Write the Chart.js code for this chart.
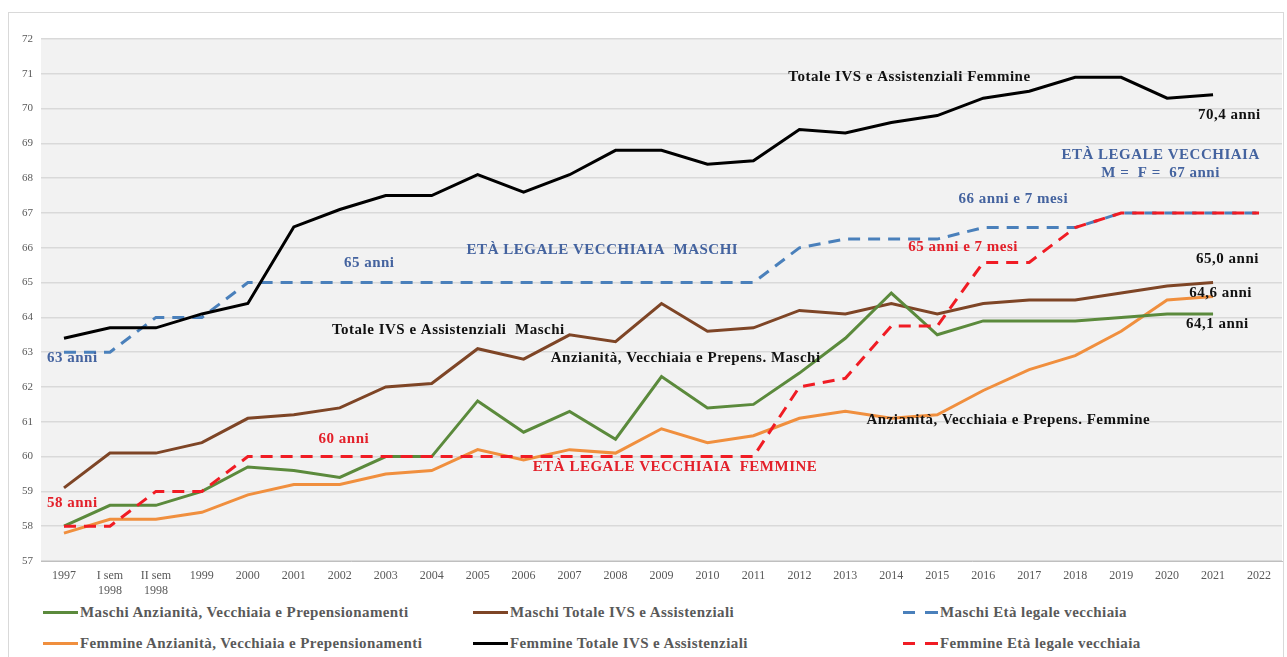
<!DOCTYPE html>
<html lang="it">
<head>
<meta charset="utf-8">
<title>Età media alla decorrenza</title>
<script src="https://cdn.jsdelivr.net/npm/chart.js@4.4.1/dist/chart.umd.min.js"></script>
<style>
  html, body { margin:0; padding:0; background:#fff; width:1287px; height:657px; overflow:hidden; }
  #frame { position:absolute; left:8px; top:12px; width:1276px; height:700px; border:1px solid #d9d9d9; box-sizing:border-box; }
  #wrap { position:absolute; left:0; top:0; width:1287px; height:600px; }
  #legend { position:absolute; left:0; top:598px; width:1287px; }
  .leg { position:absolute; display:flex; align-items:center; font:bold 15px "Liberation Serif", serif; letter-spacing:0.4px; color:#595959; white-space:nowrap; }
  .leg i { display:inline-block; width:35px; height:0; margin-right:2px; }
</style>
</head>
<body>
<div id="frame"></div>
<div id="wrap"><canvas id="chart" width="1287" height="600"></canvas></div>
<div id="legend"></div>
<script>
/* Età media alla decorrenza – maschi / femmine */
const categories = ['1997', ['I sem', '1998'], ['II sem', '1998'], '1999', '2000', '2001', '2002', '2003',
  '2004', '2005', '2006', '2007', '2008', '2009', '2010', '2011', '2012', '2013', '2014', '2015',
  '2016', '2017', '2018', '2019', '2020', '2021', '2022'];

const maschiAnzianita   = [58.0, 58.6, 58.6, 59.0, 59.7, 59.6, 59.4, 60.0, 60.0, 61.6, 60.7, 61.3, 60.5, 62.3, 61.4, 61.5, 62.4, 63.4, 64.7, 63.5, 63.9, 63.9, 63.9, 64.0, 64.1, 64.1, null];
const maschiTotale      = [59.1, 60.1, 60.1, 60.4, 61.1, 61.2, 61.4, 62.0, 62.1, 63.1, 62.8, 63.5, 63.3, 64.4, 63.6, 63.7, 64.2, 64.1, 64.4, 64.1, 64.4, 64.5, 64.5, 64.7, 64.9, 65.0, null];
const maschiLegale      = [63, 63, 64, 64, 65, 65, 65, 65, 65, 65, 65, 65, 65, 65, 65, 65, 66, 66.25, 66.25, 66.25, 66.58, 66.58, 66.58, 67, 67, 67, 67];
const femmineAnzianita  = [57.8, 58.2, 58.2, 58.4, 58.9, 59.2, 59.2, 59.5, 59.6, 60.2, 59.9, 60.2, 60.1, 60.8, 60.4, 60.6, 61.1, 61.3, 61.1, 61.2, 61.9, 62.5, 62.9, 63.6, 64.5, 64.6, null];
const femmineTotale     = [63.4, 63.7, 63.7, 64.1, 64.4, 66.6, 67.1, 67.5, 67.5, 68.1, 67.6, 68.1, 68.8, 68.8, 68.4, 68.5, 69.4, 69.3, 69.6, 69.8, 70.3, 70.5, 70.9, 70.9, 70.3, 70.4, null];
const femmineLegale     = [58, 58, 59, 59, 60, 60, 60, 60, 60, 60, 60, 60, 60, 60, 60, 60, 62, 62.25, 63.75, 63.75, 65.58, 65.58, 66.58, 67, 67, 67, 67];

const yTicks = { min: 57, max: 72, step: 1 };

// scritte sul grafico: [testo, indice categoria (sinistra), valore (centro), colore]
const BLACK = '#111111', BLUE = '#44639f', RED = '#e3202a';
const notes = [
  ['Totale IVS e Assistenziali Femmine', 15.76, 70.9, BLACK],
  ['70,4 anni', 24.67, 69.81, BLACK],
  ['ETÀ LEGALE VECCHIAIA', 21.7, 68.66, BLUE],
  ['M =  F =  67 anni', 22.57, 68.14, BLUE],
  ['66 anni e 7 mesi', 19.46, 67.4, BLUE],
  ['ETÀ LEGALE VECCHIAIA  MASCHI', 8.76, 65.93, BLUE],
  ['65 anni', 6.09, 65.56, BLUE],
  ['65 anni e 7 mesi', 18.37, 66.02, RED],
  ['65,0 anni', 24.63, 65.67, BLACK],
  ['64,6 anni', 24.48, 64.69, BLACK],
  ['64,1 anni', 24.41, 63.8, BLACK],
  ['Totale IVS e Assistenziali  Maschi', 5.83, 63.63, BLACK],
  ['Anzianità, Vecchiaia e Prepens. Maschi', 10.59, 62.83, BLACK],
  ['63 anni', -0.37, 62.83, BLUE],
  ['Anzianità, Vecchiaia e Prepens. Femmine', 17.46, 61.05, BLACK],
  ['60 anni', 5.54, 60.5, RED],
  ['ETÀ LEGALE VECCHIAIA  FEMMINE', 10.2, 59.7, RED],
  ['58 anni', -0.37, 58.66, RED]
];

const SERIF = '"Liberation Serif", "Times New Roman", serif';

const line = (label, data, color, extra) => Object.assign({
  label, data, borderColor: color, backgroundColor: color,
  borderWidth: 3, pointRadius: 0, tension: 0, fill: false
}, extra || {});

const datasets = [
  line('Maschi Anzianità, Vecchiaia e Prepensionamenti', maschiAnzianita, '#5b8a3c'),
  line('Maschi Totale IVS e Assistenziali', maschiTotale, '#7e4526'),
  line('Maschi Età legale vecchiaia', maschiLegale, '#4a80bb', { borderDash: [12, 8], order: 2 }),
  line('Femmine Anzianità, Vecchiaia e Prepensionamenti', femmineAnzianita, '#f08f3e'),
  line('Femmine Totale IVS e Assistenziali', femmineTotale, '#000000'),
  line('Femmine Età legale vecchiaia', femmineLegale, '#f01c24', { borderDash: [12, 8], order: -1 })
];

const plotBg = {
  id: 'plotBg',
  beforeDraw(chart) {
    const { ctx, chartArea: a } = chart;
    ctx.save();
    ctx.fillStyle = '#f2f2f2';
    ctx.fillRect(a.left, a.top, a.right - a.left, a.bottom - a.top);
    ctx.restore();
  }
};

const noteLabels = {
  id: 'noteLabels',
  afterDatasetsDraw(chart) {
    const { ctx, scales: { x, y } } = chart;
    ctx.save();
    ctx.font = 'bold 15px ' + SERIF;
    ctx.letterSpacing = '0.5px';
    ctx.textAlign = 'left';
    ctx.textBaseline = 'middle';
    notes.forEach(([txt, xi, yv, col]) => {
      ctx.fillStyle = col;
      ctx.fillText(txt, x.getPixelForValue(xi), y.getPixelForValue(yv));
    });
    ctx.restore();
  }
};

const chart = new Chart(document.getElementById('chart'), {
  type: 'line',
  data: { labels: categories, datasets },
  options: {
    responsive: false,
    animation: false,
    layout: { padding: { top: 39, right: 5, left: 0, bottom: 0 } },
    plugins: { legend: { display: false }, tooltip: { enabled: false } },
    scales: {
      x: {
        offset: true,
        grid: { display: false, drawTicks: false },
        border: { color: '#bfbfbf', width: 1 },
        ticks: { color: '#595959', font: { family: SERIF, size: 12 }, padding: 8, maxRotation: 0, autoSkip: false },
        afterFit: (s) => { s.height = 39; }
      },
      y: {
        min: yTicks.min, max: yTicks.max,
        grid: { color: '#d9d9d9', lineWidth: 1.5, drawTicks: false },
        border: { display: false },
        ticks: { stepSize: yTicks.step, color: '#595959', font: { family: SERIF, size: 11 }, padding: 8 },
        afterFit: (s) => { s.width = 41; }
      }
    }
  },
  plugins: [plotBg, noteLabels]
});

// legenda a 3 colonne
const legCols = [43, 473, 903];
const legRows = [14, 45];
const legWrap = document.getElementById('legend');
chart.data.datasets.forEach((ds, i) => {
  const d = document.createElement('div');
  d.className = 'leg';
  d.style.left = legCols[i % 3] + 'px';
  d.style.top = (legRows[Math.floor(i / 3)] - 9) + 'px';
  d.style.height = '18px';
  const sw = document.createElement('i');
  sw.style.borderTop = `3px solid ${ds.borderColor}`;
  if (ds.borderDash) {
    sw.style.borderTop = 'none';
    sw.style.height = '3px';
    sw.style.background = `linear-gradient(to right, ${ds.borderColor} 0 12px, transparent 12px 22px, ${ds.borderColor} 22px 35px)`;
  }
  d.appendChild(sw);
  const t = document.createElement('span');
  t.textContent = ds.label;
  d.appendChild(t);
  legWrap.appendChild(d);
});
</script>
</body>
</html>
